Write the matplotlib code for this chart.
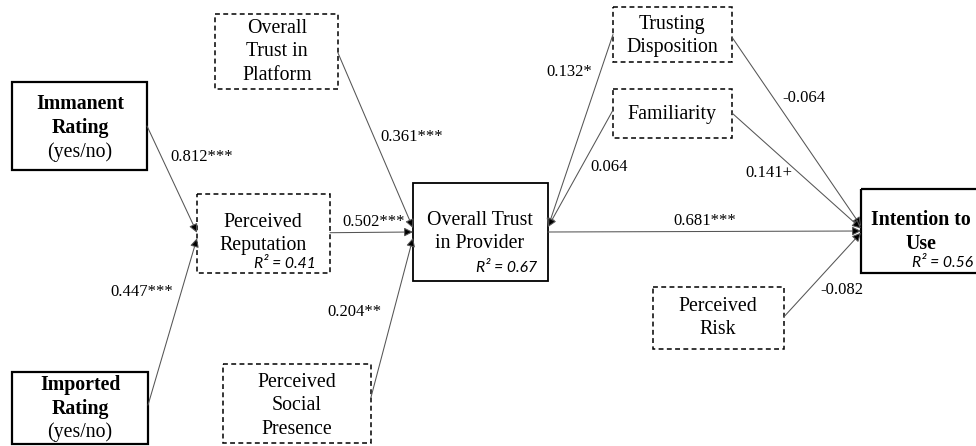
import matplotlib
matplotlib.use("Agg")
import matplotlib.pyplot as plt
from matplotlib.patches import Rectangle

# node names (bold = observed rating variables / outcome)
nodes = ["immanent", "imported", "reputation", "platform", "social",
         "provider", "disposition", "familiarity", "intention", "risk"]
node_text = {
    "immanent": "Immanent\nRating",
    "imported": "Imported\nRating",
    "reputation": "Perceived\nReputation",
    "platform": "Overall\nTrust in\nPlatform",
    "social": "Perceived\nSocial\nPresence",
    "provider": "Overall Trust\nin Provider",
    "disposition": "Trusting\nDisposition",
    "familiarity": "Familiarity",
    "intention": "Intention to\nUse",
    "risk": "Perceived\nRisk",
}
bold_nodes = ["immanent", "imported", "intention"]
dashed_nodes = ["reputation", "platform", "social", "disposition", "familiarity", "risk"]
subtitle = {"immanent": "(yes/no)", "imported": "(yes/no)"}

# path coefficients
path_src = ["immanent", "imported", "reputation", "platform", "social",
            "disposition", "familiarity", "provider", "disposition", "familiarity", "risk"]
path_dst = ["reputation", "reputation", "provider", "provider", "provider",
            "provider", "provider", "intention", "intention", "intention", "intention"]
path_coef = ["0.812***", "0.447***", "0.502***", "0.361***", "0.204**",
             "0.132*", "0.064", "0.681***", "-0.064", "0.141+", "-0.082"]

# explained variance
r2_nodes = ["reputation", "provider", "intention"]
r2_values = ["0.41", "0.67", "0.56"]

# ---- layout (pixel space, y downwards) ----
boxes = {
    "immanent": (12, 82, 147, 170),
    "imported": (12, 372, 148, 444),
    "reputation": (197, 194, 330, 273),
    "platform": (215, 14, 338, 89),
    "social": (223, 364, 371, 443),
    "provider": (413, 183, 548, 281),
    "disposition": (613, 7, 732, 62),
    "familiarity": (613, 89, 732, 138),
    "intention": (861, 189, 985, 273),
    "risk": (653, 287, 784, 349),
}
text_center = {
    "immanent": (80, 116),
    "imported": (80, 397),
    "reputation": (263, 234),
    "platform": (277, 52),
    "social": (297, 406),
    "provider": (480, 232),
    "disposition": (672, 36),
    "familiarity": (672, 115),
    "intention": (921, 232),
    "risk": (718, 318),
}
sub_center = {"immanent": (80, 152), "imported": (80, 432)}
r2_pos = {"reputation": (316, 264), "provider": (537, 268), "intention": (973, 263)}

# anchor fraction along the side of each box (source right/left, target left/right)
anchors = [
    ("R", 0.50, "L", 0.49),
    ("R", 0.46, "L", 0.56),
    ("R", 0.49, "L", 0.50),
    ("R", 0.52, "L", 0.46),
    ("R", 0.42, "L", 0.56),
    ("L", 0.50, "R", 0.45),
    ("L", 0.43, "R", 0.45),
    ("R", 0.50, "L", 0.50),
    ("R", 0.55, "L", 0.44),
    ("R", 0.49, "L", 0.47),
    ("R", 0.48, "L", 0.52),
]
label_pos = [
    (170, 157, "left"), (110, 292, "left"), (342, 222, "left"),
    (380, 137, "left"), (327, 312, "left"), (546, 72, "left"),
    (590, 167, "left"), (705, 221, "center"), (782, 98, "left"),
    (745, 173, "left"), (820, 290, "left"),
]


def edge_point(name, side, frac):
    x0, y0, x1, y1 = boxes[name]
    x = x1 if side == "R" else x0
    return (x, y0 + frac * (y1 - y0))


fig = plt.figure(figsize=(9.76, 4.46), dpi=100)
ax = fig.add_axes([0, 0, 1, 1])
ax.set_xlim(0, 976)
ax.set_ylim(446, 0)
ax.axis("off")

serif = "Liberation Serif"

for n in nodes:
    x0, y0, x1, y1 = boxes[n]
    if n in dashed_nodes:
        ls, lw = (0, (3.2, 2.2)), 1.1
    else:
        ls, lw = "solid", 1.6 if n in bold_nodes else 1.3
    ax.add_patch(Rectangle((x0, y0), x1 - x0, y1 - y0, fill=False,
                           edgecolor="black", linestyle=ls, linewidth=lw,
                           clip_on=True))
    cx, cy = text_center[n]
    ax.text(cx, cy, node_text[n], ha="center", va="center", family=serif,
            fontsize=14.3, linespacing=1.32,
            fontweight="bold" if n in bold_nodes else "normal")
    if n in subtitle:
        sx, sy = sub_center[n]
        ax.text(sx, sy, subtitle[n], ha="center", va="center", family=serif, fontsize=14.3)

for src, dst, coef, anc, lp in zip(path_src, path_dst, path_coef, anchors, label_pos):
    start = edge_point(src, anc[0], anc[1])
    end = edge_point(dst, anc[2], anc[3])
    ax.annotate("", xy=end, xytext=start,
                arrowprops=dict(arrowstyle="-|>", ec="#555555", fc="black", lw=0.75,
                                mutation_scale=13, shrinkA=0, shrinkB=0))
    ax.text(lp[0], lp[1], coef, ha=lp[2], va="center", family=serif, fontsize=12)

for n, v in zip(r2_nodes, r2_values):
    rx, ry = r2_pos[n]
    ax.text(rx, ry, "R\u00b2 = " + v, ha="right", va="center",
            family="Lato", style="italic", fontsize=11.3)

fig.savefig("out.png", dpi=100)
